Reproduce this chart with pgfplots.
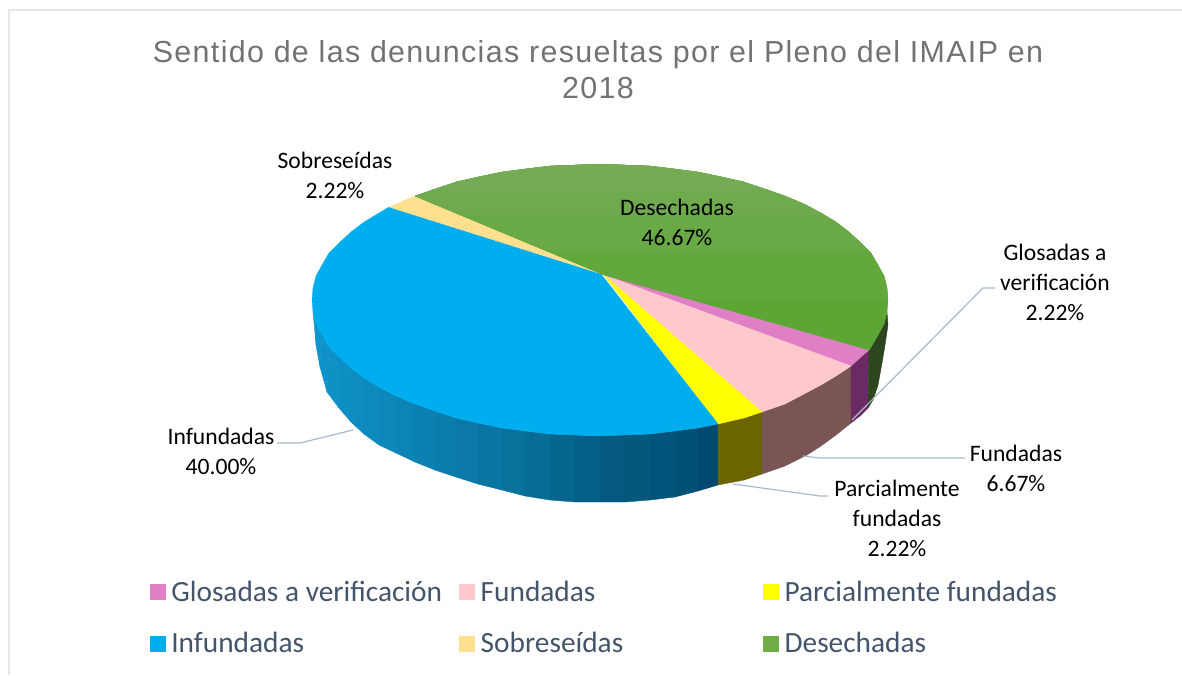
\documentclass[border=0pt]{standalone}
\usepackage{pgfplots}
\pgfplotsset{compat=1.18}
\usepackage{fontspec}
\setmainfont{Carlito}
\newfontfamily\titlefont[LetterSpace=4.4]{Liberation Sans}
\definecolor{cGlo}{HTML}{E07EC6}
\definecolor{cFun}{HTML}{FFC8CC}
\definecolor{cPar}{HTML}{FFFF00}
\definecolor{cInf}{HTML}{00AEEF}
\definecolor{cSob}{HTML}{FFE08F}
\definecolor{cDes}{HTML}{70AD47}
\definecolor{leader}{HTML}{A9B8CC}
\definecolor{legtxt}{HTML}{44546A}
\definecolor{tittxt}{HTML}{757171}
\definecolor{frame}{HTML}{E3E6EB}
\definecolor{sa}{RGB}{16,150,205}
\definecolor{sb}{RGB}{3,90,126}
\definecolor{sc}{RGB}{0,74,114}
\definecolor{sy}{RGB}{107,100,0}
\definecolor{sp}{RGB}{122,85,85}
\definecolor{sm}{RGB}{107,42,102}
\definecolor{sn}{RGB}{44,70,30}
\definecolor{ga}{HTML}{5CA636}
\definecolor{gb}{HTML}{62A83D}
\definecolor{gc}{HTML}{69AA46}
\definecolor{gd}{HTML}{6FAB4E}
\definecolor{ge}{HTML}{76AB56}
\pgfplotsset{
  strip/.style={forget plot,fill=#1,draw=#1,line width=0.3pt},
  lead/.style={forget plot,draw=leader,line width=0.9pt,no markers},
  slice/.style={fill=#1,draw=#1,line width=0.2pt,no markers},
  band/.style={forget plot,fill=#1,draw=none}
}
\begin{document}
\begin{tikzpicture}
\begin{axis}[
  scale only axis,width=886.5pt,height=506.25pt,
  xmin=0,xmax=1182,ymin=0,ymax=675,y dir=reverse,
  hide axis,clip=true,
  legend columns=3,
  legend cell align=left,
  legend image code/.code={\path[#1,draw=none] (0pt,-6pt) rectangle (12pt,6pt);},
  legend style={at={(axis cs:150,618)},anchor=west,draw=none,fill=none,inner sep=0pt,outer sep=0pt,
    font=\fontsize{22pt}{24pt}\selectfont,text=legtxt,
    row sep=17.6pt,
    /tikz/column 1/.style={column sep=2pt},
    /tikz/column 2/.style={column sep=11pt},
    /tikz/column 3/.style={column sep=2pt},
    /tikz/column 4/.style={column sep=103pt},
    /tikz/column 5/.style={column sep=2pt}},
]
\path (axis cs:0,0) rectangle (axis cs:1182,675);
% frame
\addplot[forget plot,draw=frame,line width=1.5pt] coordinates {(9,675) (9,10) (1182,10)};
% side of the pie: Infundadas, strip by strip
\addplot[strip={sb!0!sa}] coordinates {(313,312)(316,324)(316,345)(314,322)} --cycle;
\addplot[strip={sb!3!sa}] coordinates {(316,324)(322,335)(320,367)(316,345)} --cycle;
\addplot[strip={sb!6!sa}] coordinates {(322,335)(329,347)(327,392)(320,367)} --cycle;
\addplot[strip={sb!9!sa}] coordinates {(329,347)(339,357)(339,408)(327,392)} --cycle;
\addplot[strip={sb!12!sa}] coordinates {(339,357)(351,368)(351,422)(339,408)} --cycle;
\addplot[strip={sb!16!sa}] coordinates {(351,368)(364,378)(364,434)(351,422)} --cycle;
\addplot[strip={sb!20!sa}] coordinates {(364,378)(379,387)(379,445)(364,434)} --cycle;
\addplot[strip={sb!25!sa}] coordinates {(379,387)(396,396)(396,453)(379,445)} --cycle;
\addplot[strip={sb!30!sa}] coordinates {(396,396)(415,404)(415,462)(396,453)} --cycle;
\addplot[strip={sb!36!sa}] coordinates {(415,404)(435,411)(435,470)(415,462)} --cycle;
\addplot[strip={sb!42!sa}] coordinates {(435,411)(456,418)(456,477)(435,470)} --cycle;
\addplot[strip={sb!48!sa}] coordinates {(456,418)(478,423)(478,484)(456,477)} --cycle;
\addplot[strip={sb!55!sa}] coordinates {(478,423)(502,428)(502,490)(478,484)} --cycle;
\addplot[strip={sb!62!sa}] coordinates {(502,428)(525,431)(525,496)(502,490)} --cycle;
\addplot[strip={sb!70!sa}] coordinates {(525,431)(550,434)(550,500)(525,496)} --cycle;
\addplot[strip={sb!80!sa}] coordinates {(550,434)(575,435)(575,502)(550,500)} --cycle;
\addplot[strip={sb!90!sa}] coordinates {(575,435)(600,436)(600,502)(575,502)} --cycle;
\addplot[strip={sb}] coordinates {(600,436)(625,435)(625,502)(600,502)} --cycle;
\addplot[strip={sc!15!sb}] coordinates {(625,435)(650,434)(650,500)(625,502)} --cycle;
\addplot[strip={sc!35!sb}] coordinates {(650,434)(675,431)(675,497)(650,500)} --cycle;
\addplot[strip={sc!65!sb}] coordinates {(675,431)(698,428)(698,491)(675,497)} --cycle;
\addplot[strip={sc}] coordinates {(698,428)(718,424)(718,485)(698,491)} --cycle;
% side: Parcialmente fundadas
\addplot[strip=sy] coordinates {(718,424)(744,418)(762,412)(762,474)(744,480)(718,485)} --cycle;
% side: Fundadas
\addplot[strip=sp] coordinates {(762,412)(785,404)(804,394)(821,385)(836,376)(851,366)(851,423)(836,435)(821,446)(807,455)(785,466)(762,474)} --cycle;
% side: Glosadas
\addplot[strip=sm] coordinates {(851,366)(861,357)(869,350)(868,408)(860,416)(851,423)} --cycle;
% side: Desechadas
\addplot[strip=sn] coordinates {(869,350)(871,347)(878,335)(884,324)(887,312)(888,325)(885,345)(882,363)(878,385)(873,400)(868,408)} --cycle;
% top of the pie, in the legend's order
\addplot[slice=cGlo] coordinates {(604,275)(869,350)(861,357)(851,366)} --cycle;
\addplot[slice=cFun] coordinates {(604,275)(851,366)(836,376)(821,385)(804,394)(785,404)(762,412)} --cycle;
\addplot[slice=cPar] coordinates {(604,275)(762,412)(744,418)(718,424)} --cycle;
\addplot[slice=cInf] coordinates {(601,274)(389,207)(379,213)(364,222)(351,232)(339,243)(329,253)(322,265)(316,276)(313,288)(312,300)(313,312)(316,324)(322,335)(329,347)(339,357)(351,368)(364,378)(379,387)(396,396)(415,404)(435,411)(456,418)(478,423)(502,428)(525,431)(550,434)(575,435)(600,436)(625,435)(650,434)(675,431)(698,428)(718,424)} --cycle;
\addplot[slice=cSob] coordinates {(602,274)(389,207)(396,204)(415,196)} --cycle;
\addplot[slice=cDes] coordinates {(604,275)(869,350)(871,347)(878,335)(884,324)(887,312)(888,300)(887,288)(884,276)(878,265)(871,253)(861,243)(849,232)(836,222)(821,213)(804,204)(785,196)(765,189)(744,182)(722,177)(698,172)(675,169)(650,166)(625,165)(600,164)(575,165)(550,166)(525,169)(502,172)(478,177)(456,182)(435,189)(415,196)} --cycle;
\legend{Glosadas a verificación,Fundadas,Parcialmente fundadas,Infundadas,Sobreseídas,Desechadas}
% the green top darkens towards the front
\addplot[band=ga] coordinates {(604,275)(869,350)(871,347)(878,335)(884,324)(887,312)(888,300)(887,288)(884,276)(878,265)(871,253)(861,243)(849,232)(836,222)(821,213)(804,204)(785,196)(765,189)(744,182)(722,177)(698,172)(675,169)(650,166)(625,165)(600,164)(575,165)(550,166)(525,169)(502,172)(478,177)(456,182)(435,189)(415,196)} --cycle;
\addplot[band=gb] coordinates {(692,300)(888,300)(887,288)(884,276)(878,265)(871,253)(861,243)(849,232)(836,222)(821,213)(804,204)(785,196)(765,189)(744,182)(722,177)(698,172)(675,169)(650,166)(625,165)(600,164)(575,165)(550,166)(525,169)(502,172)(478,177)(456,182)(435,189)(415,196)(604,275)} --cycle;
\addplot[band=gc] coordinates {(544,250)(868,250)(861,243)(849,232)(836,222)(821,213)(804,204)(785,196)(765,189)(744,182)(722,177)(698,172)(675,169)(650,166)(625,165)(600,164)(575,165)(550,166)(525,169)(502,172)(478,177)(456,182)(435,189)(415,196)} --cycle;
\addplot[band=gd] coordinates {(460,215)(824,215)(821,213)(804,204)(785,196)(765,189)(744,182)(722,177)(698,172)(675,169)(650,166)(625,165)(600,164)(575,165)(550,166)(525,169)(502,172)(478,177)(456,182)(435,189)(415,196)} --cycle;
\addplot[band=ge] coordinates {(432,190)(768,190)(765,189)(744,182)(722,177)(698,172)(675,169)(650,166)(625,165)(600,164)(575,165)(550,166)(525,169)(502,172)(478,177)(456,182)(435,189)} --cycle;
% leader lines
\addplot[lead] coordinates {(353,430)(300,443)(277,443)};
\addplot[lead] coordinates {(803,456)(820,458)(965,458)};
\addplot[lead] coordinates {(733,484)(820,496)(828,496)};
\addplot[lead] coordinates {(852,420)(983,288)(995,288)};
% data labels
\tikzset{lab/.style={align=center,inner sep=0pt,font=\fontsize{17.7pt}{22.5pt}\selectfont,text=black}}
\node[lab] at (axis cs:335,175) {Sobreseídas\\2.22\%};
\node[lab] at (axis cs:677,222) {Desechadas\\46.67\%};
\node[lab] at (axis cs:1055,282) {Glosadas a\\verificación\\2.22\%};
\node[lab] at (axis cs:1016,468) {Fundadas\\6.67\%};
\node[lab] at (axis cs:897,518) {Parcialmente\\fundadas\\2.22\%};
\node[lab] at (axis cs:221,451.5) {Infundadas\\40.00\%};
% title
\node[align=center,inner sep=0pt,text=tittxt,font=\titlefont\fontsize{22.8pt}{27pt}\selectfont] at (axis cs:598,70) {Sentido de las denuncias resueltas por el Pleno del IMAIP en\\2018};
\end{axis}
\end{tikzpicture}
\end{document}
